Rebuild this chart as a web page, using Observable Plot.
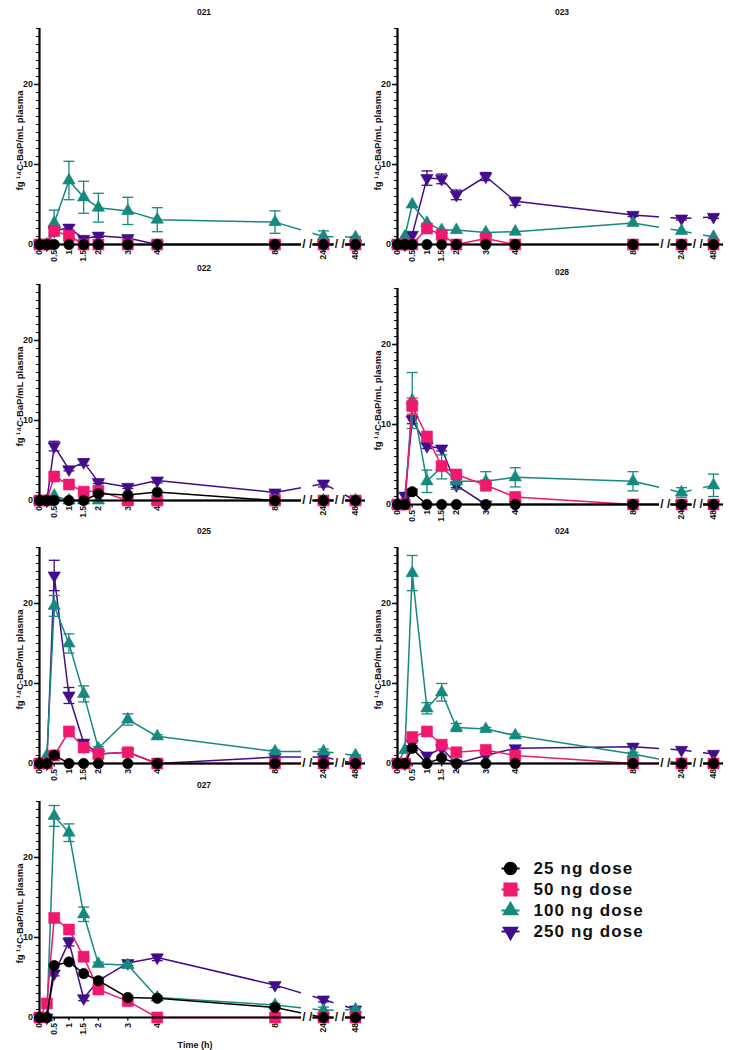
<!DOCTYPE html>
<html><head><meta charset="utf-8">
<script src="https://cdn.jsdelivr.net/npm/d3@7"></script>
<script src="https://cdn.jsdelivr.net/npm/@observablehq/plot@0.6"></script>
<style>
body{margin:0;background:#fff;font-family:"Liberation Sans",Arial,sans-serif;}
#root{position:relative;width:741px;height:1050px;overflow:hidden;background:#fff;}
.title{position:absolute;font-weight:bold;font-size:8.5px;transform:translate(-50%,-50%);color:#111;white-space:nowrap;}
.xlabel{position:absolute;font-weight:bold;font-size:9px;transform:translate(-50%,-50%);color:#111;white-space:nowrap;}
</style></head><body><div id="root"></div>
<script>
// ---------------- data ----------------
const times = [0, 0.25, 0.5, 1, 1.5, 2, 3, 4, 8, 24, 48];
const timeTicks = [0, 0.5, 1, 1.5, 2, 3, 4, 8, 24, 48];
const yTicksMajor = [0, 10, 20];
const yTicksMinor = d3.range(0, 28);
const doses = ["25 ng dose", "50 ng dose", "100 ng dose", "250 ng dose"];
const doseColors = ["#000000", "#f0186f", "#16897f", "#410d8a"];
const yLabel = "fg \u00b9\u2074C-BaP/mL plasma";
const xLabel = "Time (h)";
const subjects = ["021", "023", "022", "028", "025", "024", "027"];
// axis break segments (hours)
const axisSegments = [[0, 8.9], [22, 26], [46, 50]];

// rows: 25, 50, 100, 250 ng dose; columns: times
const v021 = [
  [0,0,0,0,0,0,0,0,0,0,0],
  [0,0,1.7,1.1,0,0,0,0,0,0,0],
  [0,0,2.7,8.0,5.9,4.6,4.2,3.1,2.8,1.0,0.9],
  [0,0,1.7,2.1,0.7,1.1,0.8,0,0,0,0]];
const e021 = [
  [0,0,0,0,0,0,0,0,0,0,0],
  [0,0,0.3,0.3,0,0,0,0,0,0,0],
  [0,0,1.6,2.4,2.0,1.8,1.7,1.5,1.4,0.7,0.1],
  [0,0,0,0.3,0.2,0.2,0.2,0,0,0,0]];
const v023 = [
  [0,0,0,0,0,0,0,0,0,0,0],
  [0,0,0,2.0,1.2,0,0.75,0,0,0,0],
  [0,1.0,5.0,2.7,1.8,1.8,1.5,1.6,2.7,1.7,0.95],
  [0,0,1.2,8.3,8.2,6.2,8.5,5.4,3.7,3.25,3.45]];
const e023 = [
  [0,0,0,0,0,0,0,0,0,0,0],
  [0,0,0,0.3,0.2,0,0.2,0,0,0,0],
  [0,0,0,0,0,0,0,0,0,0,0],
  [0,0,0,0.9,0.6,0.6,0.5,0.5,0.2,0.2,0.2]];
const v022 = [
  [0,0,0,0,0,0.85,0.7,1.05,0,0,0],
  [0,0,3.0,2.0,1.1,1.2,0,0,0,0,0],
  [0,0,0.6,0,0,0,0,0,0,0,0],
  [0,0,6.8,3.9,4.8,2.3,1.7,2.5,1.0,2.1,0]];
const e022 = [
  [0,0,0,0,0,0,0,0,0,0,0],
  [0,0,0,0,0,0,0,0,0,0,0],
  [0,0,0,0,0,0,0,0,0,0,0],
  [0,0,0.6,0.2,0.4,0.2,0.2,0.3,0.2,0.4,0]];
const v028 = [
  [0,0,1.6,0,0,0,0,0,0,0,0],
  [0,0,12.3,8.5,4.8,3.75,2.4,0.95,0,0,0],
  [0,0,13.0,2.9,4.7,2.9,2.9,3.4,2.9,1.5,2.4],
  [0,1.1,10.6,7.3,7.0,2.4,0,0,0,0,0]];
const e028 = [
  [0,0,0.3,0,0,0,0,0,0,0,0],
  [0,0,1.0,0.5,0.3,0.2,0.3,0.2,0,0,0],
  [0,0,3.5,1.4,1.5,1.0,1.2,1.2,1.2,0.6,1.4],
  [0,0,0.5,0.3,0.3,0.3,0,0,0,0,0]];
const v025 = [
  [0,0,1.05,0,0,0,0,0,0,0,0],
  [0,0,1.0,4.0,2.0,1.2,1.4,0,0,0,0],
  [0,1.0,19.7,15.0,8.7,1.9,5.5,3.4,1.5,1.5,1.0],
  [0,0,23.5,8.5,2.6,1.2,1.4,0,0.8,0.8,0]];
const e025 = [
  [0,0,0,0,0,0,0,0,0,0,0],
  [0,0,0,0,0,0,0,0,0,0,0],
  [0,0,1.3,1.2,1.0,0.2,0.7,0.2,0.2,0.3,0.1],
  [0,0,1.9,1.0,0.3,0,0,0,0,0,0]];
const v024 = [
  [0,0,1.9,0,0.7,0,0,0,0,0,0],
  [0,0,3.3,4.0,2.35,1.4,1.7,1.0,0,0,0],
  [0,1.7,23.8,6.9,8.9,4.5,4.3,3.5,1.2,0,0],
  [0,0,2.5,1.0,1.9,0,1.0,1.9,2.1,1.7,1.2]];
const e024 = [
  [0,0,0.3,0,0,0,0,0,0,0,0],
  [0,0,0,0,0,0,0,0,0,0,0],
  [0,0,2.2,0.7,1.1,0.5,0.2,0.2,0.2,0,0],
  [0,0,0,0,0,0,0,0,0,0,0]];
const v027 = [
  [0,0,6.5,6.95,5.5,4.6,2.5,2.4,1.25,0,0],
  [0,1.75,12.45,11.0,7.6,3.5,2.05,0,0,0,0],
  [0,0,25.2,23.1,12.9,6.7,6.55,2.5,1.55,0.9,1.0],
  [0,0,5.5,9.45,2.4,4.6,6.8,7.5,4.05,2.25,1.0]];
const e027 = [
  [0,0,0,0,0,0,0,0,0,0,0],
  [0,0,0,0,0,0,0,0,0,0,0],
  [0,0,1.3,1.1,0.9,0.2,0.3,0.2,0.2,0.4,0.2],
  [0,0,0.3,0.5,0.3,0.3,0.3,0.4,0.3,0.3,0.2]];

const panelValues = {"021": v021, "023": v023, "022": v022, "028": v028, "025": v025, "024": v024, "027": v027};
const panelErrors = {"021": e021, "023": e023, "022": e022, "028": e028, "025": e025, "024": e024, "027": e027};

// ---------------- layout ----------------
const layout = {
  "021": {left: 0, zero: 244}, "023": {left: 358, zero: 244},
  "022": {left: 0, zero: 500}, "028": {left: 358, zero: 504},
  "025": {left: 0, zero: 763}, "024": {left: 358, zero: 763},
  "027": {left: 0, zero: 1017}
};
const ML = 39, MT = 8, MB = 26, FRAME_H = 216, W = 372;
const segRangeRel = [0, 262, 273.5, 294.5, 306, 326];
// broken time axis: hours -> axis units (piecewise linear per segment)
const tpos = d3.scaleLinear().domain(axisSegments.flat()).range(segRangeRel);
const tinv = new Map(timeTicks.map(t => [tpos(t), t]));

// ---------------- symbols ----------------
const sqrt3 = Math.sqrt(3);
const triangleDown = {draw(ctx, size) {
  const y = -Math.sqrt(size / (sqrt3 * 3));
  ctx.moveTo(0, -2 * y);
  ctx.lineTo(-sqrt3 * y, y);
  ctx.lineTo(sqrt3 * y, y);
  ctx.closePath();
}};
const capSymbol = {draw(ctx) { ctx.moveTo(-5.5, 0); ctx.lineTo(5.5, 0); }};
const legendLine = {draw(ctx) { ctx.moveTo(-9, 0); ctx.lineTo(9, 0); }};
const doseSymbols = ["circle", "square", "triangle", triangleDown];
const doseR = [5.2, 6.2, 4.6, 4.6];

const root = document.getElementById("root");
const font = "'Liberation Sans', Arial, sans-serif";

function drawPanel(id) {
  const vals = panelValues[id], errs = panelErrors[id], pos = layout[id];
  const rows = [];
  vals.forEach((series, s) => series.forEach((v, i) => rows.push({s, t: times[i], v, e: errs[s][i]})));
  const gaps = axisSegments.slice(1).map((seg, i) => [axisSegments[i][1], seg[0]]);
  const X = d => tpos(d.t);
  const marks = [
    Plot.axisY(yTicksMinor, {tickSize: 3, tickFormat: () => "", strokeWidth: 1.1, label: null}),
    Plot.axisY(yTicksMajor, {tickSize: 5, strokeWidth: 1.6, fontWeight: "bold", fontSize: 9, tickPadding: 1.5, label: null}),
    Plot.axisX(timeTicks.map(t => tpos(t)), {tickSize: 3.5, tickRotate: -90, fontWeight: "bold", fontSize: 8.5, tickPadding: 2, strokeWidth: 1.4, label: null, tickFormat: u => String(tinv.get(u))})
  ];
  for (const s of [3, 2, 1, 0]) {
    const data = rows.filter(d => d.s === s);
    const eb = data.filter(d => d.e > 0);
    const c = doseColors[s];
    marks.push(
      Plot.line(data, {x: X, y: "v", stroke: c, strokeWidth: 1.5}),
      Plot.ruleX(eb, {x: X, y1: d => d.v - d.e, y2: d => d.v + d.e, stroke: c, strokeWidth: 1.3}),
      Plot.dot(eb, {x: X, y: d => d.v + d.e, symbol: capSymbol, stroke: c, strokeWidth: 1.3, fill: "none"}),
      Plot.dot(eb, {x: X, y: d => d.v - d.e, symbol: capSymbol, stroke: c, strokeWidth: 1.3, fill: "none"}),
      Plot.dot(data, {x: X, y: "v", symbol: doseSymbols[s], r: doseR[s], fill: c, stroke: c, strokeWidth: 0.6})
    );
  }
  marks.push(
    Plot.rect(gaps, {x1: d => tpos(d[0]), x2: d => tpos(d[1]), y1: -0.7, y2: 27, fill: "white"}),
    Plot.ruleY(axisSegments, {x1: d => tpos(d[0]), x2: d => tpos(d[1]), y: 0, stroke: "black", strokeWidth: 2.2}),
    Plot.ruleX([0], {y1: 0, y2: 27, stroke: "black", strokeWidth: 2.2}),
    Plot.text(gaps, {x: d => (tpos(d[0]) + tpos(d[1])) / 2, y: 0, text: () => "/ /", fontWeight: "bold", fontSize: 12}),
    Plot.text([yLabel], {frameAnchor: "left", textAnchor: "middle", rotate: -90, dx: -20, dy: 4, fontWeight: "bold", fontSize: 9.5})
  );
  const svg = Plot.plot({
    width: W, height: MT + FRAME_H + MB,
    marginLeft: ML, marginTop: MT, marginBottom: MB, marginRight: 0,
    style: {fontFamily: font, color: "#111", background: "transparent", overflow: "visible"},
    x: {domain: [0, segRangeRel[segRangeRel.length - 1]], range: [ML, ML + segRangeRel[segRangeRel.length - 1]]},
    y: {domain: [0, 27]},
    marks
  });
  svg.style.position = "absolute";
  svg.style.left = pos.left + "px";
  svg.style.top = (pos.zero - FRAME_H - MT) + "px";
  root.appendChild(svg);
  const t = document.createElement("div");
  t.className = "title";
  t.textContent = id;
  t.style.left = (pos.left + ML + 165) + "px";
  t.style.top = (pos.zero - 232) + "px";
  root.appendChild(t);
}
subjects.forEach(drawPanel);

// x label under last panel
const xl = document.createElement("div");
xl.className = "xlabel";
xl.textContent = xLabel;
xl.style.left = (layout["027"].left + ML + 156) + "px";
xl.style.top = "1045px";
root.appendChild(xl);

// legend
const legendMarks = [];
doses.forEach((d, i) => {
  legendMarks.push(
    Plot.dot([d], {y: x => x, frameAnchor: "left", dx: 15, symbol: legendLine, stroke: doseColors[i], strokeWidth: 2, fill: "none"}),
    Plot.dot([d], {y: x => x, frameAnchor: "left", dx: 15, symbol: doseSymbols[i], r: doseR[i] * 1.15, fill: doseColors[i], stroke: doseColors[i]}),
    Plot.text([d], {y: x => x, frameAnchor: "left", dx: 38, text: x => x, textAnchor: "start", fontWeight: "bold", fontSize: 17, fill: "#111"})
  );
});
const legend = Plot.plot({
  width: 230, height: 90, margin: 0,
  style: {fontFamily: font, background: "transparent", overflow: "visible", letterSpacing: "1.1px"},
  y: {type: "point", domain: doses, range: [10, 73], padding: 0, axis: null},
  marks: legendMarks
});
legend.style.position = "absolute";
legend.style.left = "495px";
legend.style.top = "858px";
root.appendChild(legend);
</script>
</body></html>
